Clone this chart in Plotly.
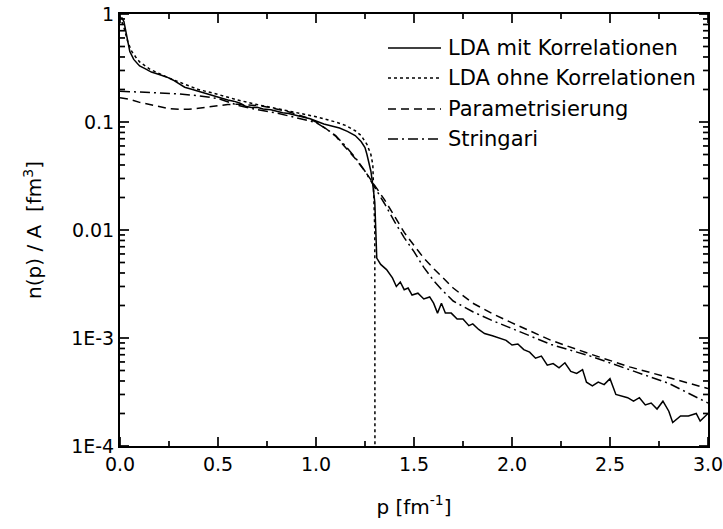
import math
import plotly.graph_objects as go

# Momentum distribution n(p)/A, LDA with and without correlations vs. parametrisation and Stringari
p_lda_korr = [0.0, 0.01, 0.02, 0.03, 0.04, 0.05, 0.07, 0.10, 0.13, 0.16, 0.20, 0.24, 0.27, 0.30,
              0.33, 0.37, 0.41, 0.45, 0.50, 0.55, 0.58, 0.61, 0.64, 0.67, 0.70, 0.73, 0.77, 0.80,
              0.83, 0.86, 0.90, 0.93, 0.97, 1.00, 1.04, 1.08, 1.12, 1.16, 1.20, 1.23, 1.25, 1.26,
              1.27, 1.28, 1.29, 1.30, 1.305, 1.31, 1.33, 1.36, 1.39, 1.41, 1.43, 1.45, 1.47, 1.49,
              1.52, 1.55, 1.58, 1.60, 1.62, 1.64, 1.66, 1.69, 1.72, 1.75, 1.78, 1.80, 1.83, 1.86,
              1.90, 1.94, 1.97, 2.00, 2.03, 2.06, 2.09, 2.12, 2.15, 2.18, 2.21, 2.24, 2.27, 2.30,
              2.33, 2.36, 2.38, 2.41, 2.44, 2.47, 2.50, 2.53, 2.56, 2.59, 2.62, 2.65, 2.68, 2.71,
              2.74, 2.77, 2.80, 2.82, 2.86, 2.90, 2.94, 2.96, 3.00]
n_lda_korr = [0.90, 0.92, 0.85, 0.70, 0.55, 0.45, 0.38, 0.33, 0.31, 0.29, 0.275, 0.26, 0.245, 0.225,
              0.21, 0.20, 0.19, 0.18, 0.17, 0.16, 0.156, 0.15, 0.14, 0.136, 0.137, 0.132, 0.13, 0.125,
              0.122, 0.12, 0.115, 0.113, 0.107, 0.102, 0.096, 0.092, 0.088, 0.082, 0.075, 0.066, 0.058, 0.050,
              0.042, 0.035, 0.026, 0.018, 0.010, 0.0055, 0.0048, 0.0043, 0.0036, 0.0030, 0.0033, 0.0028, 0.0029, 0.0025,
              0.0026, 0.0023, 0.0024, 0.0021, 0.0017, 0.0021, 0.0017, 0.0017, 0.0015, 0.0015, 0.0013, 0.00135, 0.0012, 0.0011,
              0.00105, 0.0010, 0.00095, 0.00086, 0.00088, 0.00078, 0.00074, 0.00065, 0.00068, 0.00056, 0.00058, 0.00053, 0.00059, 0.00049,
              0.00047, 0.00051, 0.00039, 0.00036, 0.00039, 0.00037, 0.00042, 0.00030, 0.00029, 0.00028, 0.00026, 0.00028, 0.00024, 0.00025,
              0.00022, 0.00026, 0.00021, 0.000165, 0.00019, 0.00019, 0.00020, 0.00017, 0.00020]

p_lda_ohne = [0.0, 0.01, 0.02, 0.04, 0.06, 0.08, 0.10, 0.15, 0.20, 0.25, 0.30, 0.35, 0.40, 0.50,
              0.60, 0.70, 0.80, 0.90, 1.00, 1.10, 1.15, 1.20, 1.23, 1.26, 1.28, 1.29, 1.30, 1.301]
n_lda_ohne = [0.95, 0.85, 0.75, 0.55, 0.45, 0.40, 0.36, 0.31, 0.28, 0.255, 0.235, 0.215, 0.20, 0.18,
              0.16, 0.145, 0.133, 0.122, 0.112, 0.10, 0.093, 0.083, 0.075, 0.062, 0.050, 0.040, 0.010, 1e-5]

p_param = [0.0, 0.05, 0.10, 0.15, 0.20, 0.25, 0.30, 0.35, 0.40, 0.45, 0.50, 0.55, 0.60, 0.65, 0.70,
           0.75, 0.80, 0.85, 0.90, 0.95, 1.00, 1.05, 1.10, 1.15, 1.20, 1.25, 1.30, 1.35, 1.40, 1.45,
           1.50, 1.55, 1.60, 1.70, 1.80, 1.90, 2.00, 2.20, 2.40, 2.60, 2.80, 3.00]
n_param = [0.168, 0.162, 0.152, 0.145, 0.138, 0.133, 0.131, 0.131, 0.134, 0.138, 0.142, 0.145, 0.146, 0.145, 0.142,
           0.138, 0.132, 0.126, 0.118, 0.110, 0.100, 0.087, 0.074, 0.058, 0.046, 0.035, 0.026, 0.019, 0.0135, 0.0095,
           0.0072, 0.0055, 0.0044, 0.0029, 0.0021, 0.00168, 0.00138, 0.00095, 0.00071, 0.00054, 0.00043, 0.00034]

p_stringari = [0.0, 0.10, 0.20, 0.30, 0.40, 0.50, 0.60, 0.70, 0.80, 0.90, 1.00, 1.05, 1.10, 1.15,
               1.20, 1.25, 1.30, 1.35, 1.40, 1.45, 1.50, 1.55, 1.60, 1.65, 1.70, 1.80, 1.90, 2.00,
               2.20, 2.40, 2.60, 2.80, 3.00]
n_stringari = [0.193, 0.190, 0.186, 0.182, 0.175, 0.165, 0.143, 0.130, 0.121, 0.110, 0.099, 0.087, 0.075, 0.060,
               0.047, 0.035, 0.025, 0.0175, 0.0120, 0.0085, 0.0063, 0.0045, 0.0034, 0.0027, 0.0022, 0.00175, 0.00145, 0.00122,
               0.00087, 0.00068, 0.00051, 0.00038, 0.00025]

y_tickvals = [1, 0.1, 0.01, 1e-3, 1e-4]
y_ticktext = ["1", "0.1", "0.01", "1E-3", "1E-4"]
x_tickvals = [0.0, 0.5, 1.0, 1.5, 2.0, 2.5, 3.0]
x_minor_tickvals = [0.25, 0.75, 1.25, 1.75, 2.25, 2.75]
y_minor_tickvals = [m * 10.0 ** e for e in (-4, -3, -2, -1) for m in range(2, 10)]

series = [
    ("LDA mit Korrelationen", p_lda_korr, n_lda_korr, "solid"),
    ("LDA ohne Korrelationen", p_lda_ohne, n_lda_ohne, "dot"),
    ("Parametrisierung", p_param, n_param, "8px,5px"),
    ("Stringari", p_stringari, n_stringari, "10px,4px,2px,4px"),
]

W, H = 723, 529
M = dict(l=120, r=15, t=14, b=83)
plot_w = W - M["l"] - M["r"]
plot_h = H - M["t"] - M["b"]
Y_LOG_RANGE = (-4, 0)


def px_x(x):
    return (x - M["l"]) / plot_w


def px_y(y):
    return (H - M["b"] - y) / plot_h


def y_frac(v):
    lo, hi = Y_LOG_RANGE
    return (math.log10(v) - lo) / (hi - lo)


fig = go.Figure()
for name, xs, ys, dash in series:
    fig.add_trace(go.Scatter(
        x=xs, y=ys, name=name, mode="lines", showlegend=False,
        line=dict(color="black", width=1.5, dash=dash),
    ))

tick_font = dict(family="DejaVu Sans, Verdana, sans-serif", size=19, color="black")
title_font = dict(family="DejaVu Sans, Verdana, sans-serif", size=20, color="black")
legend_font = dict(family="DejaVu Sans, Verdana, sans-serif", size=21, color="black")

# Inside tick marks on all four sides of the frame
TICK = dict(color="black", width=1.7)
MAJOR_LEN, MINOR_LEN = 9, 5


def x_tick(v, length):
    for base, sign in ((0.0, 1), (1.0, -1)):
        fig.add_shape(type="line", xref="x", yref="paper", x0=v, x1=v,
                      y0=base, y1=base + sign * length / plot_h, line=TICK, layer="above")


def y_tick(v, length):
    yf = y_frac(v)
    for base, sign in ((0.0, 1), (1.0, -1)):
        fig.add_shape(type="line", xref="paper", yref="paper", y0=yf, y1=yf,
                      x0=base, x1=base + sign * length / plot_w, line=TICK, layer="above")


for v in x_tickvals:
    x_tick(v, MAJOR_LEN)
for v in x_minor_tickvals:
    x_tick(v, MINOR_LEN)
for v in y_tickvals:
    y_tick(v, MAJOR_LEN)
for v in y_minor_tickvals:
    y_tick(v, MINOR_LEN)

# Legend: line sample followed by the series name, one row per series
legend_rows = [48, 78, 109, 139]
for (name, _, _, dash), row in zip(series, legend_rows):
    fig.add_shape(type="line", xref="paper", yref="paper",
                  x0=px_x(388), x1=px_x(441), y0=px_y(row), y1=px_y(row),
                  line=dict(color="black", width=1.5, dash=dash))
    fig.add_annotation(xref="paper", yref="paper", x=px_x(446), y=px_y(row),
                       xanchor="left", yanchor="middle", text=name, showarrow=False,
                       font=legend_font)

fig.update_layout(
    template="none",
    width=W, height=H,
    margin=dict(M, autoexpand=False),
    paper_bgcolor="white", plot_bgcolor="white",
    font=title_font,
    showlegend=False,
)

axis_common = dict(
    showline=True, linecolor="black", linewidth=2, mirror=True,
    ticks="", showgrid=False, zeroline=False, automargin=False,
    tickfont=tick_font, ticklabeloverflow="allow",
)

fig.update_xaxes(
    range=[0, 3.0], tickvals=x_tickvals, tickformat=".1f",
    title=dict(text="p [fm<sup>-1</sup>]", standoff=26, font=title_font),
    **axis_common,
)
fig.update_yaxes(
    type="log", range=list(Y_LOG_RANGE), tickvals=y_tickvals, ticktext=y_ticktext,
    title=dict(text="n(p) / A  [fm<sup>3</sup>]", standoff=24, font=title_font),
    **axis_common,
)

fig.write_html("out.html")
